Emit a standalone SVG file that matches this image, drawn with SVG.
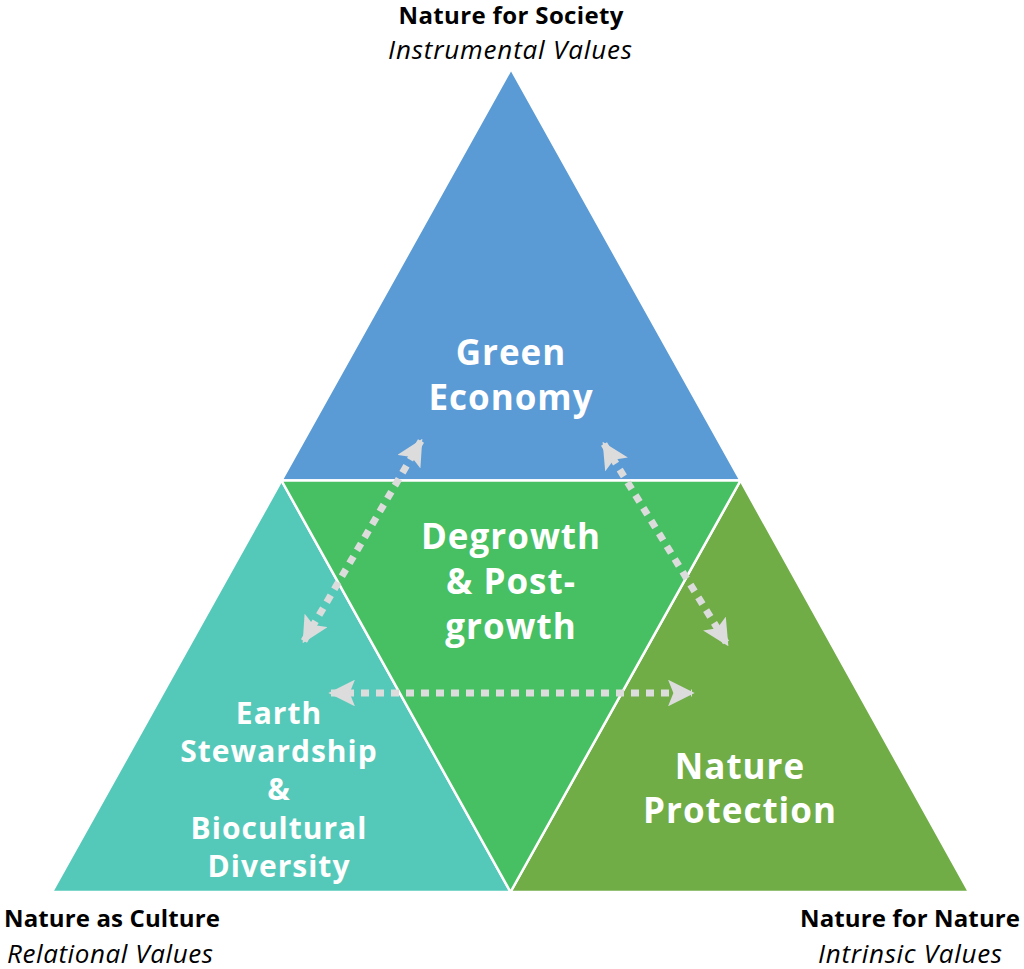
<svg xmlns="http://www.w3.org/2000/svg" width="1024" height="969" viewBox="0 0 1024 969">
<style>
.lbl{font-family:"Open Sans","Liberation Sans",sans-serif;font-weight:bold;fill:#fff;text-anchor:middle;letter-spacing:1px}
.cap{font-family:"Open Sans","Liberation Sans",sans-serif;font-size:24px;fill:#000}
.b{font-weight:bold}
.i{font-style:italic;font-size:26px}
.edge{stroke:#fff;stroke-width:2.5;stroke-linejoin:round}
.conn{stroke:#dcdcdc;stroke-width:7;stroke-dasharray:8 7;fill:none}
</style>
<defs>
<marker id="ah" viewBox="0 0 10 10" refX="9" refY="5" markerWidth="3.8" markerHeight="3.8" orient="auto-start-reverse" markerUnits="strokeWidth">
<path d="M0,0 L10,5 L0,10 L2,5 Z" fill="#dcdcdc"/>
</marker>
</defs>
<rect width="1024" height="969" fill="#fff"/>
<g id="green-economy">
<polygon points="511,69 740.5,480.5 281.5,480.5" fill="#5b9bd5" class="edge"/>
<text class="lbl" font-size="35"><tspan x="511" y="365">Green</tspan><tspan x="511" y="410">Economy</tspan></text>
</g>
<g id="earth-stewardship">
<polygon points="281.5,480.5 510.5,892 52,892" fill="#55c9b9" class="edge"/>
<text class="lbl" font-size="30"><tspan x="279" y="724">Earth</tspan><tspan x="279" y="762">Stewardship</tspan><tspan x="279" y="800">&amp;</tspan><tspan x="279" y="839">Biocultural</tspan><tspan x="279" y="877">Diversity</tspan></text>
</g>
<g id="nature-protection">
<polygon points="740.5,480.5 969,892 510.5,892" fill="#70ad47" class="edge"/>
<text class="lbl" font-size="35"><tspan x="740" y="779">Nature</tspan><tspan x="740" y="823">Protection</tspan></text>
</g>
<g id="degrowth">
<polygon points="281.5,480.5 740.5,480.5 510.5,892" fill="#47bf63" class="edge"/>
<text class="lbl" font-size="35"><tspan x="511" y="549">Degrowth</tspan><tspan x="511" y="594">&amp; Post-</tspan><tspan x="511" y="639">growth</tspan></text>
</g>
<g id="connectors">
<line class="conn" x1="304" y1="641" x2="421" y2="441" marker-start="url(#ah)" marker-end="url(#ah)"/>
<line class="conn" x1="604" y1="444" x2="727" y2="644" marker-start="url(#ah)" marker-end="url(#ah)"/>
<line class="conn" x1="331" y1="693" x2="692" y2="693" marker-start="url(#ah)" marker-end="url(#ah)"/>
</g>
<g id="captions">
<text class="cap b" x="511" y="24" text-anchor="middle" textLength="225">Nature for Society</text>
<text class="cap i" x="510" y="59" text-anchor="middle" textLength="244">Instrumental Values</text>
<text class="cap b" x="4" y="927" textLength="216">Nature as Culture</text>
<text class="cap i" x="7" y="963" textLength="206">Relational Values</text>
<text class="cap b" x="1020" y="927" text-anchor="end" textLength="220">Nature for Nature</text>
<text class="cap i" x="1002" y="963" text-anchor="end" textLength="184">Intrinsic Values</text>
</g>
</svg>
